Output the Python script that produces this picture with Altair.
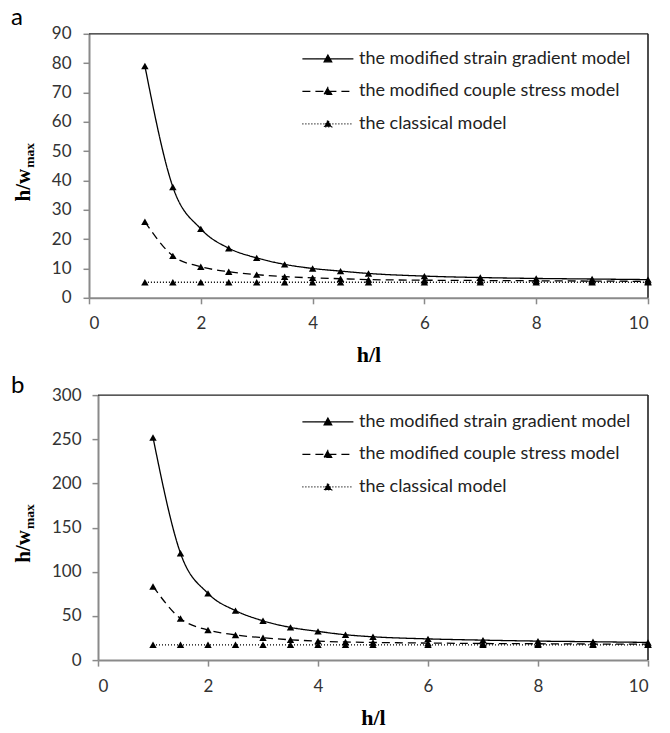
import altair as alt
import pandas as pd

# ---- data ----
h_l = [1, 1.5, 2, 2.5, 3, 3.5, 4, 4.5, 5, 6, 7, 8, 9, 10]

a_strain = [79.0, 37.8, 23.5, 16.9, 13.6, 11.4, 10.0, 9.1, 8.3, 7.4, 6.9, 6.6, 6.4, 6.2]
a_couple = [25.9, 14.3, 10.6, 8.9, 7.9, 7.2, 6.8, 6.5, 6.2, 6.0, 5.9, 5.8, 5.7, 5.6]
a_classical = [5.3, 5.3, 5.3, 5.3, 5.3, 5.3, 5.3, 5.3, 5.3, 5.3, 5.3, 5.3, 5.3, 5.3]

b_strain = [252.0, 121.0, 75.5, 56.0, 44.5, 37.0, 32.5, 28.7, 26.4, 24.0, 22.6, 21.5, 20.8, 20.0]
b_couple = [83.4, 47.0, 34.0, 28.5, 25.3, 23.0, 21.5, 20.5, 20.0, 19.3, 18.8, 18.5, 18.2, 18.0]
b_classical = [17.3, 17.3, 17.3, 17.3, 17.3, 17.3, 17.3, 17.3, 17.3, 17.3, 17.3, 17.3, 17.3, 17.3]

series_names = [
    "the modified strain gradient model",
    "the modified couple stress model",
    "the classical model",
]
x_ticks = [0, 2, 4, 6, 8, 10]
a_y_ticks = [0, 10, 20, 30, 40, 50, 60, 70, 80, 90]
b_y_ticks = [0, 50, 100, 150, 200, 250, 300]

# legend symbol: a 51px line with a small filled triangle in the middle
LEGEND_PATH = "M-1.06,0H4.04M1.11,0.3L1.49,-0.38L1.87,0.3Z"
W = 559


def make_df(strain, couple, classical):
    rows = []
    for name, vals in zip(series_names, [strain, couple, classical]):
        for xv, yv in zip(h_l, vals):
            rows.append({"h_l": xv, "val": yv, "model": name})
    return pd.DataFrame(rows)


def panel(letter, strain, couple, classical, ymax, yticks, h, x0,
          letter_y, leg_y, ylab_pad):
    df = make_df(strain, couple, classical)
    xs = alt.X("h_l:Q", scale=alt.Scale(domain=[0, 10], nice=False, range=[x0, W]),
               axis=alt.Axis(values=x_ticks, title="h/l", titlePadding=13,
                             labelPadding=12))
    ys = alt.Y("val:Q", scale=alt.Scale(domain=[0, ymax], nice=False),
               axis=alt.Axis(values=yticks, title=None, labelPadding=ylab_pad,
                             offset=-x0))
    base = alt.Chart(df)
    lines = base.mark_line(interpolate="monotone", color="black",
                           strokeWidth=1.3).encode(
        x=xs, y=ys,
        strokeDash=alt.StrokeDash(
            "model:N",
            scale=alt.Scale(domain=series_names,
                            range=[[1, 0], [8, 5], [1, 2]]),
            legend=alt.Legend(
                title=None, orient="none", legendX=213, legendY=leg_y,
                symbolType=LEGEND_PATH, symbolSize=400,
                symbolStrokeWidth=1.2, symbolStrokeColor="black",
                symbolFillColor="black",
                labelFont="Lato", labelFontSize=18, labelColor="#222",
                labelLimit=500, labelOffset=35, rowPadding=12.5,
            ),
        ),
    )
    pts = base.mark_point(shape="triangle-up", filled=True, size=55,
                          color="black", opacity=1).encode(x=xs, y=ys)

    one = pd.DataFrame({"t": [letter]})
    lab = alt.Chart(one).mark_text(
        font="Lato", fontSize=24, align="left", baseline="alphabetic",
        color="black").encode(text="t:N", x=alt.value(-78), y=alt.value(letter_y))
    hw = alt.Chart(pd.DataFrame({"t": ["h/w"]})).mark_text(
        font="Liberation Serif", fontSize=21, fontWeight="bold", angle=270,
        align="right", baseline="alphabetic", color="black").encode(
        text="t:N", x=alt.value(-59), y=alt.value(135))
    mx = alt.Chart(pd.DataFrame({"t": ["max"]})).mark_text(
        font="Liberation Serif", fontSize=13.5, fontWeight="bold", angle=270,
        align="left", baseline="alphabetic", color="black").encode(
        text="t:N", x=alt.value(-55), y=alt.value(134))
    # plot frame: top and right edges (left/bottom are the axis lines)
    top = alt.Chart(one).mark_rule(color="#222", strokeWidth=1.2).encode(
        x=alt.value(x0), x2=alt.value(W), y=alt.value(0))
    right = alt.Chart(one).mark_rule(color="#222", strokeWidth=1.6).encode(
        x=alt.value(W), y=alt.value(0), y2=alt.value(h))
    return alt.layer(top, right, lines, pts, lab, hw, mx).properties(
        width=W, height=h, view=alt.ViewBackground(stroke="transparent"))


pa = panel("a", a_strain, a_couple, a_classical, 90, a_y_ticks, 264, 0,
           -8.5, 14, 12)
pb = panel("b", b_strain, b_couple, b_classical, 300, b_y_ticks, 265, 9,
           -2, 15.8, 11)

chart = alt.vconcat(pa, pb, spacing=6.3).resolve_scale(
    strokeDash="independent", x="independent", y="independent"
).resolve_legend(strokeDash="independent").properties(
    padding={"left": 10, "top": 5.8, "right": 0, "bottom": 0}
).configure_axis(
    grid=False, labelFont="Lato", labelFontSize=17, labelColor="#333",
    domainColor="#8a8a8a", domainWidth=2, tickColor="#8a8a8a", tickWidth=1.5,
    tickSize=6, titleFont="Liberation Serif", titleFontSize=22,
    titleFontWeight="bold", titleColor="black",
)

chart.save("out.html", embed_options={"renderer": "svg", "actions": False})
